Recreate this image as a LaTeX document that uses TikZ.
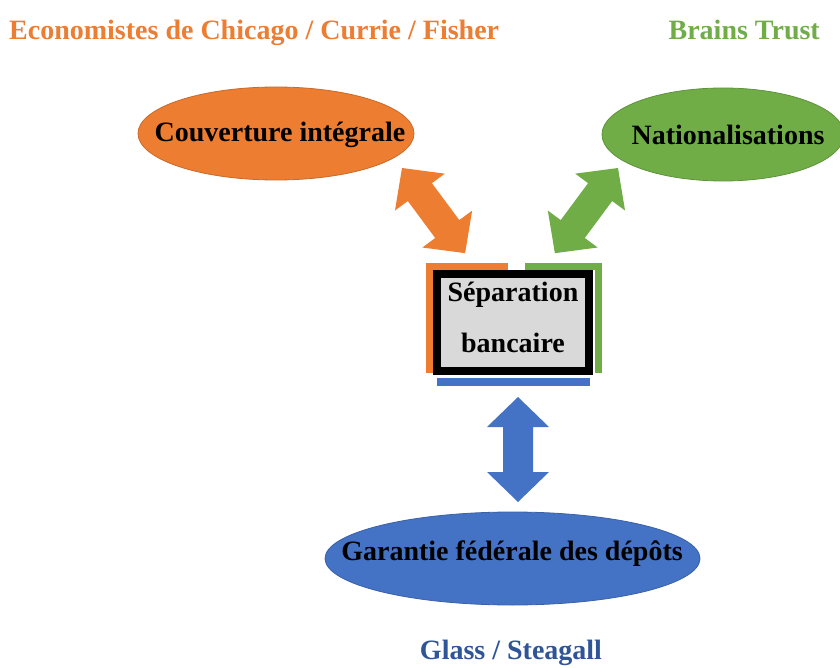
\documentclass[tikz,border=0pt]{standalone}
\usepackage{fontspec}
\setmainfont{Liberation Serif}
\usetikzlibrary{shapes.geometric}
\definecolor{corange}{HTML}{ED7D31}
\definecolor{cgreen}{HTML}{70AD47}
\definecolor{cblue}{HTML}{4472C4}
\definecolor{cdblue}{HTML}{2F5597}
\definecolor{cgray}{HTML}{D9D9D9}
\tikzset{
  bigtxt/.style={font=\fontsize{28}{34}\selectfont\bfseries},
  oval/.style={ellipse, inner sep=0pt, line width=0.8pt},
  bracket/.style={line width=7.5pt},
}
% double block arrow: colour, start point, canvas angle, length
\newcommand\dblarrow[4]{%
  \begin{scope}[shift={#2}, rotate=#3]
    \fill[#1] (0,0) -- (30,31) -- (30,15) -- (#4-30,15) -- (#4-30,31) -- (#4,0)
      -- (#4-30,-31) -- (#4-30,-15) -- (30,-15) -- (30,-31) -- cycle;
  \end{scope}}
\begin{document}
\begin{tikzpicture}[x=1pt,y=-1pt]
\clip (0,0) rectangle (840,668);
\fill[white] (0,0) rectangle (840,668);

% titles
\node[bigtxt, text=corange, anchor=base west, inner sep=0pt] (t1) at (9,40) {Economistes de Chicago / Currie / Fisher};
\node[bigtxt, text=cgreen, anchor=base east, inner sep=0pt] (t2) at (820,40) {Brains Trust};
\node[bigtxt, text=cdblue, anchor=base, inner sep=0pt] (t3) at (511,659) {Glass / Steagall};

% ellipses
\node[oval, fill=corange, draw=corange!85!black, minimum width=276pt, minimum height=93pt] (coul) at (276,133.5) {};
\node[bigtxt, text=black] (coult) at (280,135) {Couverture intégrale};
\node[oval, fill=cgreen, draw=cgreen!85!black, minimum width=242pt, minimum height=93pt] (nat) at (723,134.5) {};
\node[bigtxt, text=black] (natt) at (728,135) {Nationalisations};
\node[oval, fill=cblue, draw=cblue!85!black, minimum width=375pt, minimum height=93pt] (gar) at (512.5,558.5) {};
\node[bigtxt, text=black] (gart) at (512,554) {Garantie fédérale des dépôts};

% brackets around central box
\draw[bracket, corange] (429.5,373) -- (429.5,266.5) -- (508,266.5);
\draw[bracket, cgreen] (525,266.5) -- (598.5,266.5) -- (598.5,373);
\draw[line width=8pt, cblue] (437,382) -- (590,382);

% central box
\node[draw=black, line width=8pt, fill=cgray, minimum width=152pt, minimum height=97pt,
      inner sep=0pt] (sep) at (513,322.5) {};
\node[align=center, inner sep=0pt, font=\fontsize{28}{51}\selectfont\bfseries] (sept) at (513,317)
      {Séparation\\bancaire};

% block arrows
\dblarrow{corange}{(402,168)}{-53.45}{106}
\dblarrow{cgreen}{(618,168)}{-126.55}{106}
\dblarrow{cblue}{(518,397)}{-90}{105}
\end{tikzpicture}
\end{document}
